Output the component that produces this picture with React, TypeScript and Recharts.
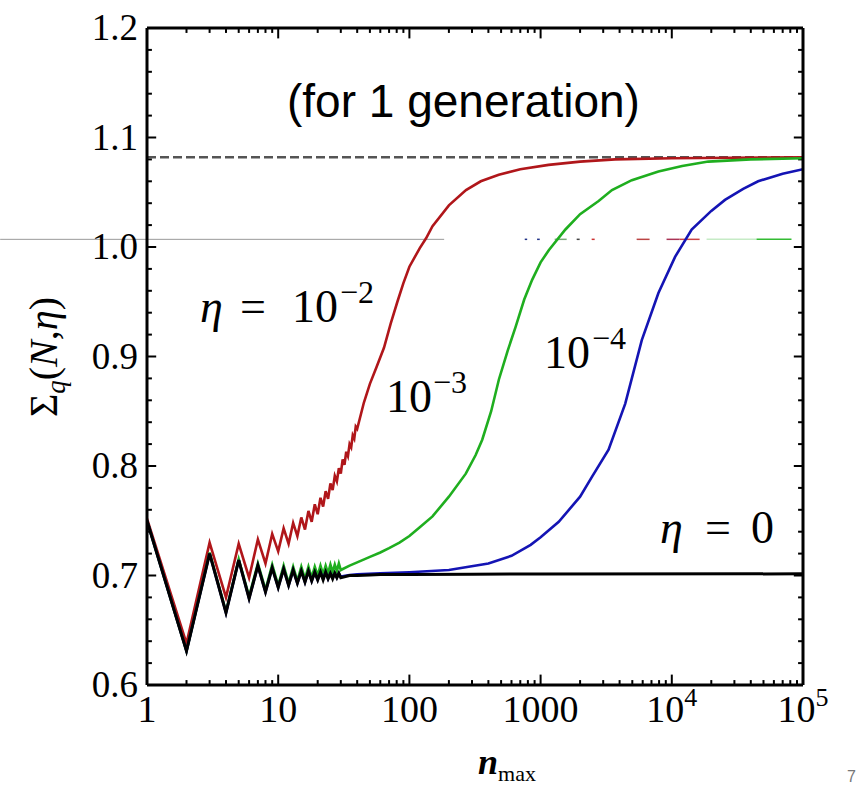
import React from 'react';
import { LineChart, Line, XAxis, YAxis, ReferenceLine, Customized } from 'recharts';

// ---- data ----
const nBlack = [1,2,3,4,5,6,7,8,9,10,11,12,13,14,15,16,17,18,19,20,21,22,23,24,25,26,27,28,29,30,35,40,50,60,80,100,300,1000,100000];
const sBlack = [0.750,0.631,0.720,0.666,0.714,0.679,0.709,0.685,0.707,0.689,0.706,0.691,0.705,0.693,0.704,0.694,0.704,0.695,0.703,0.696,0.703,0.696,0.703,0.697,0.702,0.697,0.702,0.698,0.702,0.698,0.700,0.700,0.7005,0.7008,0.701,0.701,0.7012,0.7014,0.7015];

const nGreen = [1,2,3,4,5,6,7,8,9,10,11,12,13,14,15,16,17,18,19,20,21,22,23,24,25,26,27,28,29,30,35,40,50,60,70,84,100,120,150,200,269,320,359,420,481,560,645,750,862,1000,1154,1546,2000,2768,3500,4960,7907,12000,18970,40000,100000];
const sGreen = [0.750,0.631,0.721,0.667,0.715,0.681,0.711,0.687,0.710,0.691,0.709,0.693,0.708,0.695,0.708,0.697,0.708,0.698,0.708,0.700,0.709,0.701,0.709,0.702,0.710,0.703,0.710,0.704,0.711,0.705,0.709,0.712,0.717,0.721,0.725,0.730,0.736,0.744,0.754,0.772,0.793,0.810,0.824,0.850,0.879,0.905,0.927,0.952,0.970,0.986,0.997,1.016,1.030,1.042,1.052,1.061,1.069,1.074,1.078,1.080,1.081];

const nRed = [1,2,3,4,5,6,7,8,9,10,11,12,13,14,15,16,17,18,19,20,21,22,23,24,25,26,27,28,29,30,31,32,33,34,35,36,37,38,39,40,45,50,56,64,72,81,90,100,120,134,150,200,270,350,480,700,1150,2000,3700,10000,100000];
const sRed = [0.752,0.638,0.730,0.680,0.729,0.698,0.733,0.711,0.738,0.722,0.743,0.729,0.748,0.736,0.753,0.742,0.759,0.749,0.765,0.756,0.771,0.763,0.777,0.770,0.784,0.778,0.791,0.786,0.798,0.793,0.806,0.801,0.813,0.809,0.820,0.817,0.828,0.825,0.836,0.834,0.858,0.875,0.890,0.908,0.930,0.950,0.967,0.982,0.999,1.008,1.019,1.038,1.052,1.060,1.066,1.071,1.075,1.078,1.080,1.081,1.082];

const nBlue = [1,2,3,4,5,6,7,8,9,10,11,12,13,14,15,16,17,18,19,20,21,22,23,24,25,26,27,28,29,30,35,40,60,100,200,400,600,840,1000,1375,2000,2462,3296,4418,5906,7907,10590,14170,20000,25430,35000,45500,70000,100000];
const sBlue = [0.750,0.631,0.720,0.666,0.714,0.679,0.709,0.685,0.707,0.689,0.706,0.691,0.705,0.693,0.704,0.694,0.704,0.695,0.703,0.696,0.703,0.697,0.703,0.697,0.702,0.698,0.702,0.698,0.702,0.699,0.7005,0.701,0.702,0.703,0.705,0.711,0.718,0.728,0.735,0.749,0.772,0.790,0.815,0.857,0.915,0.958,0.991,1.016,1.033,1.043,1.053,1.060,1.067,1.071];

const limitValue = 1.082;
const stripValue = 1.007;
// faint broken strip pieces on the right (start n, end n, colour)
const stripStart = [757, 940, 1280, 1884, 2450, 5395, 9120, 11480, 18410, 44250];
const stripEnd = [790, 985, 1580, 1985, 2583, 6770, 11480, 16290, 44250, 81700];
const stripColor = ['#223388', '#223388', '#7aa77a', '#444444', '#cc3333', '#bb4444', '#aa3355', '#cc4444', '#c6ebc6', '#33bb33'];

const xMajorTicks = [1, 10, 100, 1000, 10000, 100000];
const xTickBase = ['1', '10', '100', '1000', '10', '10'];
const xTickExp = ['', '', '', '', '4', '5'];
const xMinorTicks = [2,3,4,5,6,7,8,9,20,30,40,50,60,70,80,90,200,300,400,500,600,700,800,900,2000,3000,4000,5000,6000,7000,8000,9000,20000,30000,40000,50000,60000,70000,80000,90000];
const yMajorTicks = [0.6, 0.7, 0.8, 0.9, 1.0, 1.1, 1.2];
const yTickLabels = ['0.6', '0.7', '0.8', '0.9', '1.0', '1.1', '1.2'];
const yMinorTicks = [0.62,0.64,0.66,0.68,0.72,0.74,0.76,0.78,0.82,0.84,0.86,0.88,0.92,0.94,0.96,0.98,1.02,1.04,1.06,1.08,1.12,1.14,1.16,1.18];

const X_MIN = 1;
const X_MAX = 100000;
const Y_MIN = 0.6;
const Y_MAX = 1.2;

// tick lengths expressed in axis units (~10px / ~5px)
const Y_TICK_MAJOR = 0.0095;
const Y_TICK_MINOR = 0.0045;
const X_TICK_MAJOR = 1.175; // multiplicative on log axis
const X_TICK_MINOR = 1.09;

const toRows = (ns: number[], vs: number[]) => ns.map((n, i) => ({ n, s: vs[i] }));
const redData = toRows(nRed, sRed);
const greenData = toRows(nGreen, sGreen);
const blueData = toRows(nBlue, sBlue);
const blackData = toRows(nBlack, sBlack);

const SERIF = '"Liberation Serif", "Times New Roman", serif';
const SANS = '"Liberation Sans", Arial, Helvetica, sans-serif';

const XTick = (props: any) => {
  const { x, y, payload } = props;
  const i = xMajorTicks.indexOf(payload.value);
  if (i < 0) return null;
  return (
    <text x={x} y={y + 37} textAnchor="middle" fontFamily={SERIF} fontSize={38} fill="#000">
      {xTickBase[i]}
      {xTickExp[i] ? <tspan dy={-16} fontSize={26}>{xTickExp[i]}</tspan> : null}
    </text>
  );
};

const YTick = (props: any) => {
  const { x, y, payload } = props;
  const i = yMajorTicks.findIndex((v) => Math.abs(v - payload.value) < 1e-9);
  if (i < 0) return null;
  return (
    <text x={x} y={y + 12} textAnchor="end" fontFamily={SERIF} fontSize={37} fill="#000">
      {yTickLabels[i]}
    </text>
  );
};

const Annotations = () => (
  <g fill="#000">
    <text x={287} y={117} fontFamily={SANS} fontSize={46}>(for 1 generation)</text>

    <text x={200} y={322} fontFamily={SERIF} fontSize={46} fontStyle="italic">η</text>
    <text x={240} y={322} fontFamily={SERIF} fontSize={46}>=</text>
    <text x={292} y={322} fontFamily={SERIF} fontSize={46}>10</text>
    <text x={340} y={303} fontFamily={SERIF} fontSize={32}>−2</text>

    <text x={386} y={412} fontFamily={SERIF} fontSize={46}>10</text>
    <text x={433} y={393} fontFamily={SERIF} fontSize={32}>−3</text>

    <text x={544} y={368} fontFamily={SERIF} fontSize={46}>10</text>
    <text x={592} y={349} fontFamily={SERIF} fontSize={32}>−4</text>

    <text x={660} y={543} fontFamily={SERIF} fontSize={46} fontStyle="italic">η</text>
    <text x={705} y={543} fontFamily={SERIF} fontSize={46}>=</text>
    <text x={751} y={543} fontFamily={SERIF} fontSize={46}>0</text>

    <text x={57} y={357} transform="rotate(-90, 57, 357)" textAnchor="middle" fontFamily={SERIF} fontSize={40}>
      <tspan>Σ</tspan>
      <tspan fontSize={27} fontStyle="italic" dy={8}>q</tspan>
      <tspan dy={-8}>(</tspan>
      <tspan fontStyle="italic">N</tspan>
      <tspan>,</tspan>
      <tspan fontStyle="italic">η</tspan>
      <tspan>)</tspan>
    </text>

    <text x={478} y={774} fontFamily={SERIF} fontSize={36} fontStyle="italic" fontWeight="bold">
      n<tspan fontSize={22} fontStyle="normal" fontWeight="normal" dy={7}>max</tspan>
    </text>

    <text x={847} y={782} fontFamily={SANS} fontSize={16} fill="#777">7</text>
  </g>
);

const axisStroke = { stroke: '#000', strokeWidth: 3 };
const TICK_COLOR = '#000';
const TICK_W = 2;

export default function App() {
  const tickLines: React.ReactNode[] = [];
  xMajorTicks.forEach((v, i) => {
    tickLines.push(<ReferenceLine key={`xb${i}`} segment={[{ x: v, y: Y_MIN }, { x: v, y: Y_MIN + Y_TICK_MAJOR }]} stroke={TICK_COLOR} strokeWidth={TICK_W} ifOverflow="visible" />);
    tickLines.push(<ReferenceLine key={`xt${i}`} segment={[{ x: v, y: Y_MAX }, { x: v, y: Y_MAX - Y_TICK_MAJOR }]} stroke={TICK_COLOR} strokeWidth={TICK_W} ifOverflow="visible" />);
  });
  xMinorTicks.forEach((v, i) => {
    tickLines.push(<ReferenceLine key={`xbm${i}`} segment={[{ x: v, y: Y_MIN }, { x: v, y: Y_MIN + Y_TICK_MINOR }]} stroke={TICK_COLOR} strokeWidth={TICK_W} ifOverflow="visible" />);
    tickLines.push(<ReferenceLine key={`xtm${i}`} segment={[{ x: v, y: Y_MAX }, { x: v, y: Y_MAX - Y_TICK_MINOR }]} stroke={TICK_COLOR} strokeWidth={TICK_W} ifOverflow="visible" />);
  });
  yMajorTicks.forEach((v, i) => {
    tickLines.push(<ReferenceLine key={`yl${i}`} segment={[{ x: X_MIN, y: v }, { x: X_MIN * X_TICK_MAJOR, y: v }]} stroke={TICK_COLOR} strokeWidth={TICK_W} ifOverflow="visible" />);
    tickLines.push(<ReferenceLine key={`yr${i}`} segment={[{ x: X_MAX, y: v }, { x: X_MAX / X_TICK_MAJOR, y: v }]} stroke={TICK_COLOR} strokeWidth={TICK_W} ifOverflow="visible" />);
  });
  yMinorTicks.forEach((v, i) => {
    tickLines.push(<ReferenceLine key={`ylm${i}`} segment={[{ x: X_MIN, y: v }, { x: X_MIN * X_TICK_MINOR, y: v }]} stroke={TICK_COLOR} strokeWidth={TICK_W} ifOverflow="visible" />);
    tickLines.push(<ReferenceLine key={`yrm${i}`} segment={[{ x: X_MAX, y: v }, { x: X_MAX / X_TICK_MINOR, y: v }]} stroke={TICK_COLOR} strokeWidth={TICK_W} ifOverflow="visible" />);
  });

  const stripPieces = stripStart.map((s, i) => (
    <ReferenceLine
      key={`strip${i}`}
      segment={[{ x: s, y: stripValue }, { x: stripEnd[i], y: stripValue }]}
      stroke={stripColor[i]}
      strokeWidth={1.5}
      ifOverflow="visible"
    />
  ));

  return (
    <div style={{ position: 'absolute', left: 0, top: 0, width: 859, height: 787, background: '#fff' }}>
      <LineChart width={859} height={787} margin={{ top: 27, right: 55, bottom: 101, left: 146 }}>
        <XAxis
          xAxisId={0}
          dataKey="n"
          type="number"
          scale="log"
          domain={[X_MIN, X_MAX]}
          allowDataOverflow
          ticks={xMajorTicks}
          interval={0}
          height={1}
          tickSize={0}
          tickMargin={0}
          axisLine={axisStroke}
          tickLine={false}
          tick={<XTick />}
        />
        <XAxis
          xAxisId="xtop"
          orientation="top"
          type="number"
          scale="log"
          domain={[X_MIN, X_MAX]}
          allowDataOverflow
          ticks={xMajorTicks}
          height={1}
          axisLine={axisStroke}
          tickLine={false}
          tick={false}
        />
        <YAxis
          yAxisId={0}
          type="number"
          domain={[Y_MIN, Y_MAX]}
          allowDataOverflow
          ticks={yMajorTicks}
          interval={0}
          width={1}
          tickSize={0}
          tickMargin={9}
          axisLine={axisStroke}
          tickLine={false}
          tick={<YTick />}
        />
        <YAxis
          yAxisId="yright"
          orientation="right"
          type="number"
          domain={[Y_MIN, Y_MAX]}
          allowDataOverflow
          ticks={yMajorTicks}
          width={1}
          axisLine={axisStroke}
          tickLine={false}
          tick={false}
        />

        {tickLines}

        <ReferenceLine y={limitValue} stroke="#555" strokeWidth={2.5} strokeDasharray="9 4" />
        <ReferenceLine
          segment={[{ x: 0.076, y: stripValue }, { x: 184, y: stripValue }]}
          stroke="#999"
          strokeWidth={1}
          ifOverflow="visible"
        />
        {stripPieces}

        <Line data={redData} dataKey="s" type="linear" stroke="#b0161a" strokeWidth={2.6} dot={false} isAnimationActive={false} />
        <Line data={greenData} dataKey="s" type="linear" stroke="#1fae1f" strokeWidth={2.6} dot={false} isAnimationActive={false} />
        <Line data={blueData} dataKey="s" type="linear" stroke="#1414b4" strokeWidth={2.6} dot={false} isAnimationActive={false} />
        <Line data={blackData} dataKey="s" type="linear" stroke="#000" strokeWidth={3} dot={false} isAnimationActive={false} />

        <Customized component={<Annotations />} />
      </LineChart>
    </div>
  );
}
